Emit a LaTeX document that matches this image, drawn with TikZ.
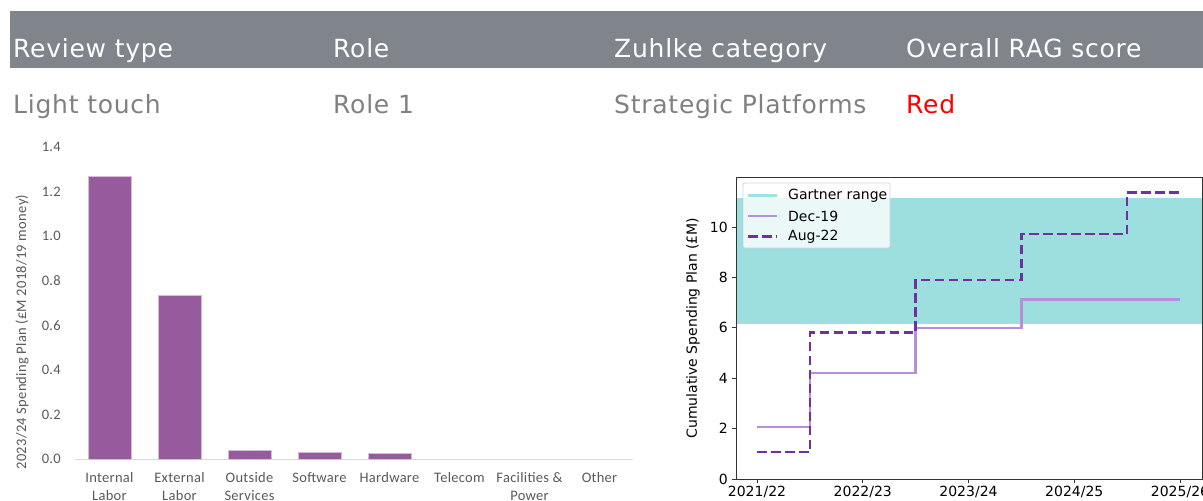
\documentclass[tikz,border=0pt]{standalone}
\usepackage{fontspec}
\setmainfont{DejaVu Sans}
\newfontfamily\hdrfont[LetterSpace=3]{DejaVu Sans}
\newfontfamily\calfont[LetterSpace=2]{Carlito}
\newfontfamily\mplfont{DejaVu Sans}
\definecolor{band}{HTML}{7F858B}
\definecolor{rowgray}{HTML}{808080}
\definecolor{ragred}{HTML}{FF0000}
\definecolor{barcol}{HTML}{975A9C}
\definecolor{axgray}{HTML}{D9D9D9}
\definecolor{lblgray}{HTML}{595959}
\definecolor{gartner}{HTML}{9DDEDF}
\definecolor{gartnerline}{HTML}{9FE2E6}
\definecolor{decline}{HTML}{B78FD6}
\definecolor{augline}{HTML}{7030A0}
\definecolor{spine}{HTML}{333333}
\tikzset{
  hdr/.style={anchor=base west, inner sep=0pt, text=white, font=\hdrfont\fontsize{25pt}{30pt}\selectfont},
  rowtxt/.style={anchor=base west, inner sep=0pt, text=rowgray, font=\hdrfont\fontsize{25pt}{30pt}\selectfont},
  ytl/.style={anchor=east, inner sep=0pt, text=lblgray, font=\calfont\fontsize{14.5pt}{17pt}\selectfont},
  catl/.style={anchor=north, inner sep=0pt, text=lblgray, align=center, font=\calfont\fontsize{14.5pt}{18pt}\selectfont},
  barbox/.style={fill=barcol, draw=barcol!40!white, line width=0.6pt},
  mtick/.style={inner sep=0pt, text=black, font=\mplfont\fontsize{14pt}{16pt}\selectfont},
  decstyle/.style={draw=decline, line width=2.4pt},
  augstyle/.style={draw=augline, line width=2.8pt, dash pattern=on 9.5pt off 4.5pt},
}
\begin{document}
\begin{tikzpicture}[x=1pt, y=-1pt]
\useasboundingbox (0,0) rectangle (1203,501);
% header band
\fill[band] (10,11) rectangle (1203,68);
\node[hdr] (h1) at (13,57) {Review type};
\node[hdr] (h2) at (333,57) {Role};
\node[hdr] (h3) at (614,57) {Zuhlke category};
\node[hdr] (h4) at (906,57) {Overall RAG score};
\node[rowtxt] (r1) at (13,113) {Light touch};
\node[rowtxt] (r2) at (333,113) {Role 1};
\node[rowtxt] (r3) at (614,113) {Strategic Platforms};
\node[rowtxt, text=ragred] (r4) at (906,113) {Red};

% ---------- bar chart ----------
\draw[axgray, line width=1pt] (75,459) -- (633,459);
\node[ytl] (t0) at (61,459) {0.0};
\node[ytl] (t1) at (61,414.4) {0.2};
\node[ytl] (t2) at (61,369.8) {0.4};
\node[ytl] (t3) at (61,325.2) {0.6};
\node[ytl] (t4) at (61,280.6) {0.8};
\node[ytl] (t5) at (61,236) {1.0};
\node[ytl] (t6) at (61,191.4) {1.2};
\node[ytl] (t7) at (61,146.8) {1.4};
\node[rotate=90, inner sep=0pt, text=lblgray, font=\calfont\fontsize{14.5pt}{17pt}\selectfont] (ylab) at (22,332) {2023/24 Spending Plan (£M 2018/19 money)};
\draw[barbox] (88,176) rectangle (131,459);
\draw[barbox] (158,295) rectangle (201,459);
\draw[barbox] (228,450) rectangle (271,459);
\draw[barbox] (298,452) rectangle (341,459);
\draw[barbox] (368,453) rectangle (411,459);
\node[catl] (c1) at (109.5,472) {Internal\\Labor};
\node[catl] (c2) at (179.5,472) {External\\Labor};
\node[catl] (c3) at (249.5,472) {Outside\\Services};
\node[catl] (c4) at (319.5,472) {Software};
\node[catl] (c5) at (389.5,472) {Hardware};
\node[catl] (c6) at (459.5,472) {Telecom};
\node[catl] (c7) at (529.5,472) {Facilities \&\\Power};
\node[catl] (c8) at (599.5,472) {Other};

% ---------- step chart ----------
\fill[gartner] (736,198) rectangle (1202,324.3);
\draw[decstyle] (757,426.8) -- (810,426.8) -- (810,373.2) -- (915.6,373.2) -- (915.6,327.8) -- (1021.4,327.8) -- (1021.4,299.6) -- (1180,299.6);
\draw[augstyle] (757,452) -- (810,452) -- (810,332.8) -- (915.6,332.8) -- (915.6,279.9) -- (1021.4,279.9) -- (1021.4,234) -- (1127,234) -- (1127,192.2) -- (1180,192.2);
\draw[spine, line width=1pt] (736,177) rectangle (1202,479);
% y ticks
\foreach \v/\yy in {0/479,2/428.6,4/378.2,6/327.8,8/277.4,10/227}{
  \draw[spine, line width=0.9pt] (736,\yy) -- (732,\yy);
  \node[mtick, anchor=east] at (728,\yy) {\v};
}
% x ticks
\foreach \xx in {757,862.8,968.5,1074.3,1180}{
  \draw[spine, line width=0.9pt] (\xx,479) -- (\xx,483);
}
\node[mtick, anchor=north] (x1) at (757,486) {2021/22};
\node[mtick, anchor=north] (x2) at (862.8,486) {2022/23};
\node[mtick, anchor=north] (x3) at (968.5,486) {2023/24};
\node[mtick, anchor=north] (x4) at (1074.3,486) {2024/25};
\node[mtick, anchor=north] (x5) at (1180,486) {2025/26};
\node[mtick, rotate=90] (ylab2) at (693,328) {Cumulative Spending Plan (£M)};
% legend
\draw[rounded corners=2pt, fill=white, fill opacity=0.8, draw=black!20, draw opacity=0.8, line width=0.8pt] (743,183) rectangle (890,248);
\coordinate (lg1a) at (748,195.5); \coordinate (lg1b) at (777,195.5);
\coordinate (lg2a) at (748,216); \coordinate (lg2b) at (777,216);
\coordinate (lg3a) at (748,236.5); \coordinate (lg3b) at (777,236.5);
\draw[gartnerline, line width=2.4pt] (lg1a) -- (lg1b);
\draw[decstyle] (lg2a) -- (lg2b);
\draw[augstyle] (lg3a) -- (lg3b);
\node[mtick, anchor=west] (lt1) at (788,195.5) {Gartner range};
\node[mtick, anchor=west] (lt2) at (788,216) {Dec-19};
\node[mtick, anchor=west] (lt3) at (788,236.5) {Aug-22};
\end{tikzpicture}
\end{document}
